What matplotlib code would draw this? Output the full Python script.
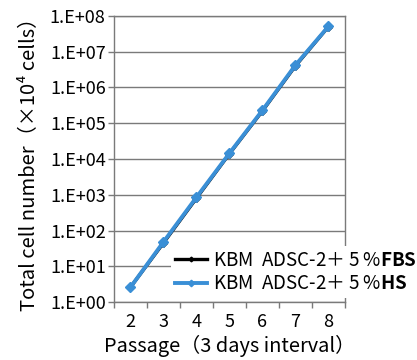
import numpy as np
import matplotlib
matplotlib.use("Agg")
import matplotlib.pyplot as plt
from matplotlib.ticker import FixedLocator, FuncFormatter

plt.rcParams['font.family'] = ['Noto Sans CJK JP', 'DejaVu Sans']
plt.rcParams['mathtext.fontset'] = 'custom'
plt.rcParams['mathtext.rm'] = 'Noto Sans CJK JP'
plt.rcParams['mathtext.bf'] = 'Noto Sans CJK JP:bold'

# データ
passage = [2, 3, 4, 5, 6, 7, 8]
fbs_cells = [2.6, 45, 800, 1.4e4, 2.2e5, 4.0e6, 5.0e7]
hs_cells = [2.6, 48, 850, 1.45e4, 2.3e5, 4.2e6, 5.1e7]
decades = [0, 1, 2, 3, 4, 5, 6, 7, 8]
fbs_label = "KBM  ADSC-2＋ 5 %$\\mathbf{FBS}$"
hs_label = "KBM  ADSC-2＋ 5 %$\\mathbf{HS}$"

grey = '#7a7a7a'
blue = '#3a8fd6'

fig = plt.figure(figsize=(4.17, 3.6), dpi=100)
ax = fig.add_axes([0.2734, 0.161, 0.5536, 0.7946])

ax.plot(passage, fbs_cells, color='black', lw=2.4, marker='D', ms=4,
        label=fbs_label, zorder=3)
ax.plot(passage, hs_cells, color=blue, lw=2.8, marker='D', ms=5.5,
        label=hs_label, zorder=4)

ax.set_yscale('log')
ax.set_ylim(1, 1e8)
ax.set_xlim(1.5, 8.5)

ax.yaxis.set_major_locator(FixedLocator([10.0**d for d in decades]))
ax.yaxis.set_minor_locator(FixedLocator([]))
ax.yaxis.set_major_formatter(FuncFormatter(lambda v, p: "1.E+%02d" % round(np.log10(v))))
ax.xaxis.set_major_locator(FixedLocator(passage))
ax.xaxis.set_minor_locator(FixedLocator([p - 0.5 for p in passage] + [8.5]))

ax.tick_params(axis='y', which='major', length=4, width=1, color=grey,
               labelsize=13, pad=2)
ax.tick_params(axis='x', which='major', length=0, labelsize=13, pad=8)
ax.tick_params(axis='x', which='minor', length=4, width=1, color=grey)

ax.grid(axis='y', color=grey, lw=1)
for s in ax.spines.values():
    s.set_color(grey)
    s.set_linewidth(1)

ax.set_xlabel("Passage（3 days interval）", fontsize=14.4, labelpad=3)
ax.set_ylabel("Total cell number（×10⁴ cells）", fontsize=14.5, labelpad=8)

leg = fig.legend(loc='center left', bbox_to_anchor=(0.41, 0.2444), frameon=True,
                 fontsize=13.5, handlelength=1.7, handletextpad=0.33,
                 borderpad=0.2, labelspacing=0.15, borderaxespad=0,
                 markerscale=0.6)
leg.get_frame().set_facecolor('white')
leg.get_frame().set_edgecolor('none')
leg.get_frame().set_alpha(1)

fig.savefig("out.png", dpi=100)
